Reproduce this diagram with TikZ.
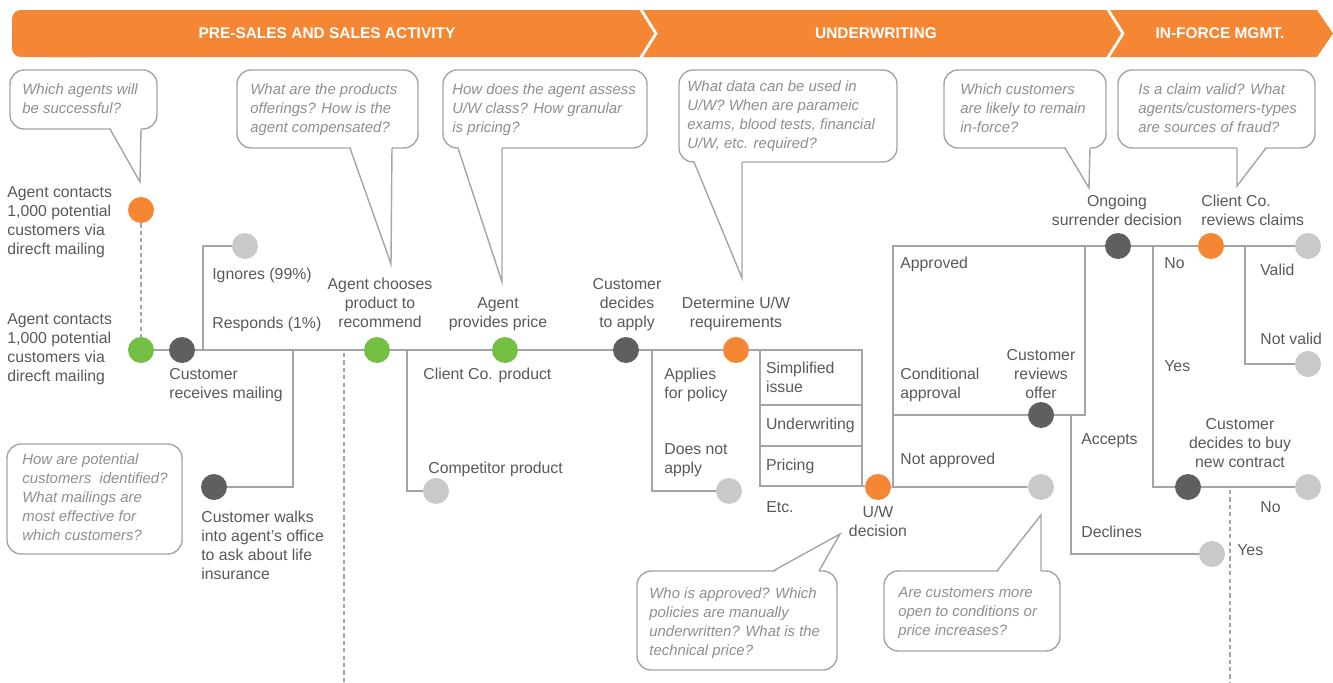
\documentclass[tikz,border=0pt]{standalone}
\usepackage{fontspec}
\setmainfont{Liberation Sans}
\usetikzlibrary{positioning}

\definecolor{uworange}{HTML}{F58634}
\definecolor{uwgreen}{HTML}{72BF44}
\definecolor{uwdark}{HTML}{5E5F61}
\definecolor{uwlight}{HTML}{C8C9CB}
\definecolor{linegray}{HTML}{A3A5A8}
\definecolor{txtgray}{HTML}{58595B}
\definecolor{askgray}{HTML}{8C8E90}

\begin{document}
\begin{tikzpicture}[
    x=0.02cm, y=-0.02cm,
    dot/.style={circle, minimum size=0.52cm, inner sep=0pt},
    odot/.style={dot, fill=uworange},
    gdot/.style={dot, fill=uwgreen},
    ddot/.style={dot, fill=uwdark},
    ldot/.style={dot, fill=uwlight},
    flow/.style={draw=linegray, line width=1.1pt},
    guide/.style={draw=linegray, line width=0.8pt, dash pattern=on 2.4pt off 1.8pt},
    bubble/.style={draw=linegray, line width=0.8pt, rounded corners=8pt},
    lbl/.style={font=\fontsize{9}{10.8}\selectfont, text=txtgray, inner sep=0pt,
                align=left, anchor=north west},
    clbl/.style={lbl, align=center, anchor=north},
    ask/.style={lbl, font=\fontsize{8.5}{10.8}\selectfont\itshape, text=askgray},
    hdr/.style={font=\fontsize{8.8}{10}\selectfont\bfseries, text=white, inner sep=0pt},
    uwbox/.style={draw=linegray, line width=1.1pt, outer sep=0pt, anchor=north west,
                  minimum width=2.04cm, text width=1.8cm, inner xsep=0.12cm, inner ysep=0pt,
                  align=left, font=\fontsize{9}{10.8}\selectfont, text=txtgray}
  ]
  \useasboundingbox (0,0) rectangle (1333,683);

  % Phase banner
  \fill[uworange, rounded corners=5pt] (12,10) rectangle (100,57);
  \fill[uworange] (50,10) -- (1317,10) -- (1333,33.5) -- (1317,57) -- (50,57) -- cycle;
  \draw[white, line width=1.6pt] (640,8) -- (656,33.5) -- (640,59);
  \draw[white, line width=1.6pt] (1107,8) -- (1123,33.5) -- (1107,59);
  \node[hdr] (hSales) at (327,33) {PRE-SALES AND SALES ACTIVITY};
  \node[hdr] (hUw) at (876,33) {UNDERWRITING};
  \node[hdr] (hForce) at (1220,33) {IN-FORCE MGMT.};

  % Question bubbles
  \draw[bubble] (10,70) rectangle (157,129);
  \fill[white] (110.5,127.5) -- (140,182) -- (141,127.5) -- cycle;
  \draw[linegray, line width=0.8pt] (110,129) -- (140,182) -- (141,129);
  \node[ask] (q1) at (22,83) {Which agents will\\be successful?};

  \draw[bubble] (237,70) rectangle (418,148);
  \fill[white] (350.5,146.5) -- (391,264) -- (392,146.5) -- cycle;
  \draw[linegray, line width=0.8pt] (350,148) -- (391,264) -- (392,148);
  \node[ask] (q2) at (250,83) {What are the products\\offerings? How is the\\agent compensated?};

  \draw[bubble] (443,70) rectangle (647,148);
  \fill[white] (458.5,146.5) -- (502,282) -- (502,146.5) -- cycle;
  \draw[linegray, line width=0.8pt] (458,148) -- (502,282) -- (502,148);
  \node[ask] (q3) at (452,83) {How does the agent assess\\U/W class? How granular\\is pricing?};

  \draw[bubble] (679,70) rectangle (897,162);
  \fill[white] (694.5,160.5) -- (742,278) -- (742,160.5) -- cycle;
  \draw[linegray, line width=0.8pt] (694,162) -- (742,278) -- (742,162);
  \node[ask] (q4) at (687,80) {What data can be used in\\U/W? When are parameic\\exams, blood tests, financial\\U/W, etc. required?};

  \draw[bubble] (944,70) rectangle (1106,148);
  \fill[white] (1065.5,146.5) -- (1089,188) -- (1090,146.5) -- cycle;
  \draw[linegray, line width=0.8pt] (1065,148) -- (1089,188) -- (1090,148);
  \node[ask] (q5) at (960,83) {Which customers\\are likely to remain\\in-force?};

  \draw[bubble] (1118,70) rectangle (1315,148);
  \fill[white] (1237,146.5) -- (1237,186) -- (1265.5,146.5) -- cycle;
  \draw[linegray, line width=0.8pt] (1237,148) -- (1237,186) -- (1266,148);
  \node[ask] (q6) at (1138,83) {Is a claim valid? What\\agents/customers-types\\are sources of fraud?};

  \draw[bubble] (7,444) rectangle (182,554);
  \node[ask] (q7) at (22,453) {How are potential\\customers~ identified?\\What mailings are\\most effective for\\which customers?};

  \draw[bubble] (637,571) rectangle (837,670);
  \fill[white] (773.5,572.5) -- (840,534) -- (818.5,572.5) -- cycle;
  \draw[linegray, line width=0.8pt] (773,571) -- (840,534) -- (819,571);
  \node[ask] (q8) at (649,587) {Who is approved? Which\\policies are manually\\underwritten? What is the\\technical price?};

  \draw[bubble] (884,571) rectangle (1060,651);
  \fill[white] (997.5,572.5) -- (1041,515) -- (1041,572.5) -- cycle;
  \draw[linegray, line width=0.8pt] (997,571) -- (1041,515) -- (1041,571);
  \node[ask] (q9) at (898,587) {Are customers more\\open to conditions or\\price increases?};

  % Events
  \node[odot] (otop) at (141,210) {};
  \node[gdot] (gstart) at (141,350) {};
  \node[ddot] (drecv) at (182,350) {};
  \node[ldot] (lign) at (245,246) {};
  \node[ddot] (dwalk) at (214,487) {};
  \node[gdot] (gchoose) at (377,350) {};
  \node[ldot] (lcomp) at (436,491) {};
  \node[gdot] (gprice) at (505,350) {};
  \node[ddot] (dapply) at (626,350) {};
  \node[ldot] (lnoapply) at (729,491) {};
  \node[odot] (oreq) at (736,350) {};
  \node[odot] (ouw) at (878,487) {};
  \node[ddot] (doffer) at (1041,415) {};
  \node[ldot] (lnotappr) at (1041,487) {};
  \node[ldot] (ldecl) at (1212,554) {};
  \node[ddot] (dsurr) at (1118,246) {};
  \node[odot] (oclaim) at (1211,246) {};
  \node[ldot] (lvalid) at (1308,246) {};
  \node[ldot] (lnotvalid) at (1308,364) {};
  \node[ddot] (dbuy) at (1188,487) {};
  \node[ldot] (lnobuy) at (1308,487) {};

  % U/W requirement boxes
  \node[uwbox, minimum height=1.1cm] (simp) at (760,350) {Simplified\\issue};
  \node[uwbox, minimum height=0.82cm, below=0pt of simp] (uwr) {Underwriting\\[-4pt]};
  \node[uwbox, minimum height=0.8cm, below=0pt of uwr] (pric) {Pricing};

  % Junctions
  \coordinate (jIgn) at (203,350);
  \coordinate (jWalk) at (293,350);
  \coordinate (jComp) at (407,350);
  \coordinate (jApply) at (652,350);
  \coordinate (jUw) at (893,487);
  \coordinate (apprTop) at (893,246);
  \coordinate (condL) at (893,415);
  \coordinate (acc) at (1085,415);
  \coordinate (accTop) at (1085,246);
  \coordinate (jDecl) at (1071,415);
  \coordinate (jSurr) at (1153,246);
  \coordinate (jClaim) at (1245,246);
  \coordinate (cutA) at (344,353);
  \coordinate (cutAend) at (344,683);
  \coordinate (cutB) at (1230,490);
  \coordinate (cutBend) at (1230,683);

  % Wiring
  \draw[flow] (gstart) -- (drecv) -- (gchoose) -- (gprice) -- (dapply) -- (oreq) -- (simp.north west);
  \draw[flow] (pric.south east) -- (ouw) -- (lnotappr);
  \draw[flow] (jIgn) |- (lign);
  \draw[flow] (jWalk) |- (dwalk);
  \draw[flow] (jComp) |- (lcomp);
  \draw[flow] (jApply) |- (lnoapply);
  \draw[flow] (jUw) -- (apprTop) -- (dsurr) -- (oclaim) -- (lvalid);
  \draw[flow] (condL) -- (doffer) -- (acc) -- (accTop);
  \draw[flow] (jDecl) |- (ldecl);
  \draw[flow] (jSurr) |- (dbuy);
  \draw[flow] (dbuy) -- (lnobuy);
  \draw[flow] (jClaim) |- (lnotvalid);

  \draw[guide] (otop) -- (gstart);
  \draw[guide] (cutA) -- (cutAend);
  \draw[guide] (cutB) -- (cutBend);

  % Labels
  \node[lbl] (tStartA) at (7,186) {Agent contacts\\1,000 potential\\customers via\\direcft mailing};
  \node[lbl] (tStartB) at (7,313) {Agent contacts\\1,000 potential\\customers via\\direcft mailing};
  \node[lbl] (tRecv) at (169,368) {Customer\\receives mailing};
  \node[lbl] (tIgn) at (212,268) {Ignores (99\%)};
  \node[lbl] (tResp) at (212,317) {Responds (1\%)};
  \node[lbl] (tWalk) at (201,511) {Customer walks\\into agent's office\\to ask about life\\insurance};
  \node[clbl] (tChoose) at (380,278) {Agent chooses\\product to\\recommend};
  \node[lbl] (tClient) at (423,368) {Client Co. product};
  \node[lbl] (tComp) at (428,462) {Competitor product};
  \node[clbl] (tPrice) at (498,297) {Agent\\provides price};
  \node[clbl] (tApply) at (627,278) {Customer\\decides\\to apply};
  \node[clbl] (tReq) at (736,297) {Determine U/W\\requirements};
  \node[lbl] (tApplies) at (664,368) {Applies\\for policy};
  \node[lbl] (tNoApply) at (664,443) {Does not\\apply};
  \node[lbl] (tEtc) at (766,501) {Etc.};
  \node[clbl] (tUw) at (878,506) {U/W\\decision};
  \node[lbl] (tAppr) at (900,257) {Approved};
  \node[lbl] (tCond) at (900,368) {Conditional\\approval};
  \node[clbl] (tOffer) at (1041,349) {Customer\\reviews\\offer};
  \node[lbl] (tNotAppr) at (900,453) {Not approved};
  \node[lbl] (tAcc) at (1081,433) {Accepts};
  \node[lbl] (tDecl) at (1081,526) {Declines};
  \node[clbl] (tSurr) at (1117,195) {Ongoing\\surrender decision};
  \node[lbl] (tClaim) at (1201,195) {Client Co.\\reviews claims};
  \node[lbl] (tNo) at (1164,257) {No};
  \node[lbl] (tYes) at (1164,360) {Yes};
  \node[lbl] (tValid) at (1260,264) {Valid};
  \node[lbl] (tNotValid) at (1260,333) {Not valid};
  \node[clbl] (tBuy) at (1240,418) {Customer\\decides to buy\\new contract};
  \node[lbl] (tNoBuy) at (1260,501) {No};
  \node[lbl] (tYesBuy) at (1237,544) {Yes};
\end{tikzpicture}
\end{document}
